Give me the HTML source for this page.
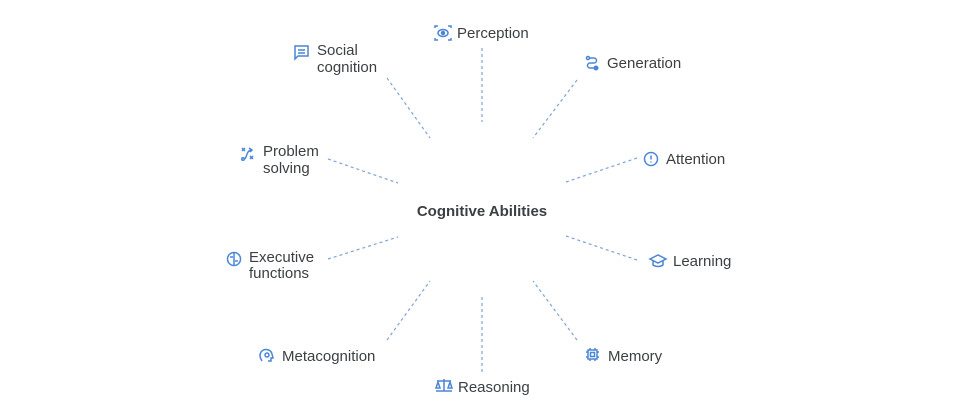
<!DOCTYPE html>
<html><head><meta charset="utf-8"><style>
html,body{margin:0;padding:0;background:#fff;}
svg{display:block;}
text{font-family:"Liberation Sans",sans-serif;font-size:15px;fill:#3c4043;}
</style></head><body>
<svg width="960" height="420" viewBox="0 0 960 420">
<g stroke="#7fa3d6" stroke-width="1.2" stroke-dasharray="3,3" fill="none">
<line x1="482" y1="48" x2="482" y2="122"/>
<line x1="387" y1="78" x2="430" y2="138"/>
<line x1="577" y1="80" x2="533" y2="138"/>
<line x1="328" y1="159" x2="398" y2="183"/>
<line x1="637" y1="158" x2="566" y2="182"/>
<line x1="328" y1="259" x2="398" y2="237"/>
<line x1="637" y1="260" x2="566" y2="236"/>
<line x1="387" y1="340" x2="430" y2="281"/>
<line x1="482" y1="297" x2="482" y2="372"/>
<line x1="577" y1="340" x2="533" y2="281"/>
</g>
<text x="482" y="216" text-anchor="middle" style="font-weight:bold;font-size:15px">Cognitive Abilities</text>
<text x="457" y="38">Perception</text>
<text x="317" y="55">Social</text><text x="317" y="72">cognition</text>
<text x="607" y="68">Generation</text>
<text x="666" y="164">Attention</text>
<text x="263" y="156">Problem</text><text x="263" y="173">solving</text>
<text x="249" y="262">Executive</text><text x="249" y="278">functions</text>
<text x="673" y="266">Learning</text>
<text x="282" y="361">Metacognition</text>
<text x="458" y="392">Reasoning</text>
<text x="608" y="361">Memory</text>
<g stroke="#4a86d6" stroke-width="1.5" fill="none">
<ellipse cx="443" cy="33" rx="5" ry="3.5"/><circle cx="443" cy="33" r="1.5" fill="#4a86d6"/>
<path d="M435 28v-2h3M448 26h3v2M435 38v2h3M448 40h3v-2"/>
<path d="M295 46h13v10h-10l-3 3z"/><path d="M298 50h7M298 53h7"/>
<circle cx="588" cy="58" r="1.5"/><path d="M590 58h4a2.5 2.5 0 0 1 0 5h-4a2.5 2.5 0 0 0 0 5h4"/><circle cx="596" cy="68" r="1.8" fill="#4a86d6"/>
<circle cx="651" cy="159" r="6.5"/><path d="M651 155.5v4M651 161.5v1"/>
<path d="M242 148l3 3M245 148l-3 3M250 156l3 3M253 156l-3 3M244 159c3 0 2-8 7-9"/><circle cx="243" cy="159" r="1.3"/><path d="M249 148l3 2-2 2"/>
<circle cx="234" cy="259" r="6.5"/><path d="M234 253v12M230 257h3M235 261h3"/>
<path d="M650 259l8-4 8 4-8 4z"/><path d="M653 261v4c3 2 7 2 10 0v-4"/>
<path d="M262 361c-2-3-3-6-1-9 3-4 10-3 11 2l1 4h-2v3h-3"/><circle cx="267" cy="355" r="2"/>
<path d="M436 391h16M444 379v12M437 381h14"/><path d="M436 388l2-6 2 6zM448 388l2-6 2 6z"/>
<rect x="588" y="350" width="9" height="9"/><rect x="590.5" y="352.5" width="4" height="4"/><path d="M590 348v2M595 348v2M590 359v2M595 359v2M586 352h2M586 357h2M597 352h2M597 357h2"/>
</g>
</svg>
</body></html>
